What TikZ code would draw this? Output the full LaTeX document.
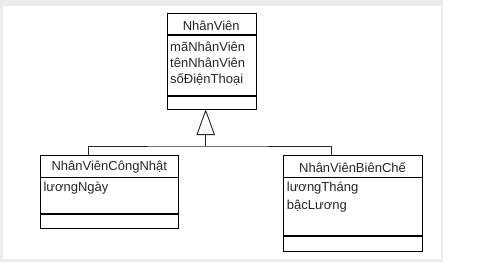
\documentclass[tikz,border=0pt]{standalone}
\usepackage{fontspec}
\setmainfont{Liberation Sans}
\usetikzlibrary{arrows.meta}
\begin{document}
\begin{tikzpicture}[x=1pt,y=1pt,
  classbox/.style={draw=black,line width=1.1pt,rectangle,anchor=north west,inner sep=0pt},
  sep/.style={line width=1.1pt},
  ttl/.style={font=\fontsize{13}{15}\selectfont,inner sep=0pt,text=black!85},
  attr/.style={font=\fontsize{13}{15}\selectfont,inner sep=0pt,anchor=west,text=black!85},
  conn/.style={line width=0.9pt,draw=black!85}]
\useasboundingbox (0,0) rectangle (502,-268);
\fill[gray!15] (0,0) rectangle (443,-262);
\fill[white] (3,-6) rectangle (440.5,-258.5);
% top class
\node[classbox,minimum width=89pt,minimum height=95.7pt] (nv) at (166.7,-13.3) {};
\draw[sep] (166.7,-35) -- (255.7,-35);
\draw[sep] (166.7,-96) -- (255.7,-96);
\node[ttl] (nvt) at (211.2,-26) {NhânViên};
\node[attr] (a1) at (170,-46.7) {mãNhânViên};
\node[attr] (a2) at (170,-62.9) {tênNhânViên};
\node[attr] (a3) at (170,-79.5) {sốĐiệnThoại};
% left class
\node[classbox,minimum width=138pt,minimum height=72.7pt] (cn) at (40.3,-155) {};
\draw[sep] (40.3,-177.7) -- (178.3,-177.7);
\draw[sep] (40.3,-214) -- (178.3,-214);
\node[ttl] (cnt) at (109.3,-167.3) {NhânViênCôngNhật};
\node[attr] (b1) at (43.3,-188.3) {lươngNgày};
% right class
\node[classbox,minimum width=138.4pt,minimum height=95.7pt] (bc) at (283.3,-155) {};
\draw[sep] (283.3,-177.7) -- (421.7,-177.7);
\draw[sep] (283.3,-236) -- (421.7,-236);
\node[ttl] (bct) at (352.5,-167.3) {NhânViênBiênChế};
\node[attr] (c1) at (286.7,-188.3) {lươngTháng};
\node[attr] (c2) at (286.7,-205.7) {bậcLương};
% connectors
\coordinate (j) at (205.7,-146);
\coordinate (lc) at (88.3,-155);
\coordinate (rc) at (331.7,-155);
\draw[conn,-{Triangle[open,length=26pt,width=18.5pt,line width=0.9pt]},shorten >=-1pt] (j) -- (j |- nv.south);
\draw[conn] (lc) |- (j) -| (rc);
\end{tikzpicture}
\end{document}
